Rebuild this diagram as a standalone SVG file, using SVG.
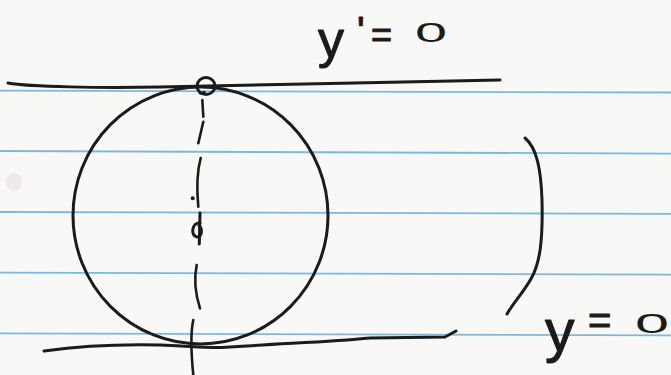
<svg xmlns="http://www.w3.org/2000/svg" width="671" height="375" viewBox="0 0 671 375">
<style>
.rule{stroke:#7db9dd;stroke-width:1.8;fill:none}
.pen{stroke:#1b1b1b;stroke-width:3;fill:none;stroke-linecap:round;stroke-linejoin:round}
.dash{stroke:#1b1b1b;stroke-width:2.6;fill:none;stroke-linecap:round}
.hand{font-family:"Liberation Sans","DejaVu Sans",sans-serif;fill:#1b1b1b;stroke:#1b1b1b;stroke-width:1;stroke-linejoin:round}
.zero{stroke:none}
</style>
<rect x="0" y="0" width="671" height="375" fill="#f8f8f6"/>
<g id="ruled-lines">
<line class="rule" x1="0" y1="90.7" x2="671" y2="92.5"/>
<line class="rule" x1="0" y1="151" x2="671" y2="153.6"/>
<line class="rule" x1="0" y1="212" x2="671" y2="213.8"/>
<line class="rule" x1="0" y1="272.7" x2="671" y2="274.6"/>
<line class="rule" x1="0" y1="333.3" x2="671" y2="335.3"/>
</g>
<ellipse cx="14" cy="182" rx="8" ry="9" fill="#c9b8b4" opacity="0.22"/>
<g id="top-line">
<path class="pen" d="M8,83 C30,87 100,88 160,87 S400,82 500,80"/>
</g>
<g id="bottom-line">
<path class="pen" d="M44,351 C80,346 120,344 160,345 S200,349 230,347 C290,343 330,342 370,338 L445,337 L456,331"/>
</g>
<g id="circle">
<ellipse class="pen" cx="200.5" cy="215.5" rx="127.5" ry="128.5"/>
</g>
<g id="contact-point">
<ellipse class="pen" cx="206" cy="86" rx="9" ry="8.5" stroke-width="2.6"/>
<circle cx="200.5" cy="93" r="1.8" fill="#1b1b1b"/>
<circle cx="204" cy="92.5" r="1.8" fill="#1b1b1b"/>
</g>
<g id="connectors">
<path class="dash" d="M202.3,100 L203.3,116.7"/>
<path class="dash" d="M203.3,121.7 L198.3,143.3"/>
<path class="dash" d="M200.7,158 Q195.5,177 198.3,206.7"/>
<circle cx="192.7" cy="198.3" r="2" fill="#1b1b1b"/>
<path class="dash" d="M196.7,265 Q192.5,285 200,308.3"/>
<path class="dash" d="M193.3,320 Q189.5,337 193.3,375"/>
</g>
<g id="phi">
<path class="pen" d="M200,213 L199.3,244" stroke-width="3.4"/>
<path class="pen" d="M200,223 C192,222 190,236 197,237 C202,237 203,229 199,226" stroke-width="3.2"/>
</g>
<g id="paren">
<path class="pen" d="M525,138 C537,148 541,170 542,200 C543,240 540,262 532,277 C524,292 513,303 507,314"/>
</g>
<g id="label-top">
<text class="hand"><tspan x="318" y="57" font-size="52">y</tspan><tspan x="357" y="45" font-size="40">'</tspan><tspan x="371" y="47" font-size="36">=</tspan><tspan class="zero" x="415" y="42" font-size="27" textLength="32" lengthAdjust="spacingAndGlyphs">0</tspan></text>
</g>
<g id="label-bottom">
<text class="hand"><tspan x="545" y="351" font-size="59">y</tspan><tspan x="588" y="334" font-size="40">=</tspan><tspan class="zero" x="635" y="333" font-size="28" textLength="34" lengthAdjust="spacingAndGlyphs">0</tspan></text>
</g>
</svg>
